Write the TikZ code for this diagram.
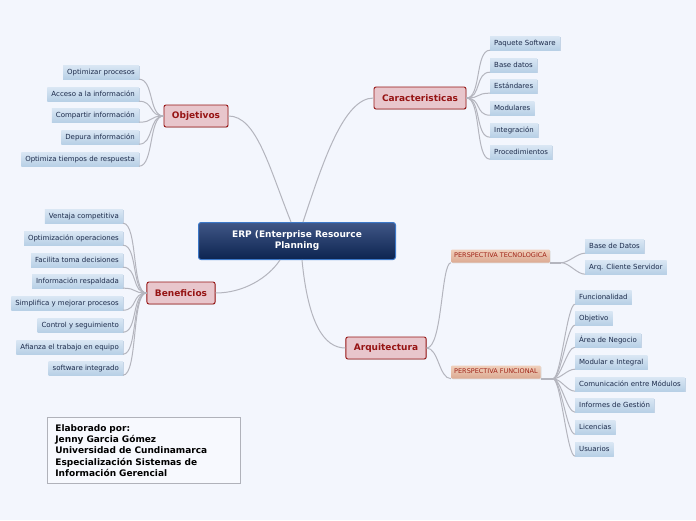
\documentclass[tikz,border=0pt]{standalone}
\usepackage{fontspec}
\setmainfont{DejaVu Sans}
\usetikzlibrary{shadows}
\definecolor{paper}{RGB}{243,246,253}
\definecolor{branchgray}{RGB}{180,181,190}
\definecolor{topicred}{RGB}{150,20,20}
\definecolor{topicpink}{RGB}{232,198,204}
\definecolor{leaftop}{RGB}{218,231,244}
\definecolor{leafbot}{RGB}{184,208,230}
\definecolor{leafshadow}{RGB}{196,212,230}
\definecolor{leaftext}{RGB}{28,42,74}
\definecolor{persptop}{RGB}{240,208,188}
\definecolor{perspbot}{RGB}{220,170,146}
\definecolor{persptext}{RGB}{160,36,24}
\definecolor{erptop}{RGB}{64,86,134}
\definecolor{erpbot}{RGB}{12,36,80}
\definecolor{erpline}{RGB}{60,120,200}
\definecolor{creditline}{RGB}{176,178,186}
\tikzset{
  erpbox/.style={rounded corners=2.5pt, draw=erpline, line width=1pt, top color=erptop, bottom color=erpbot,
    text=white, font=\bfseries\fontsize{9}{11}\selectfont, align=center, minimum width=197pt, minimum height=37pt},
  topic/.style={rounded corners=2pt, draw=topicred, line width=0.9pt, fill=topicpink, text=topicred,
    font=\bfseries\fontsize{9}{11}\selectfont, inner xsep=8pt, minimum height=22pt,
    drop shadow={shadow xshift=0.6pt, shadow yshift=-0.8pt, fill=black!25}},
  leaf/.style={top color=leaftop, bottom color=leafbot, text=leaftext, font=\fontsize{7}{8}\selectfont,
    inner xsep=4pt, inner ysep=0pt, text height=5.5pt, text depth=1.5pt, minimum height=14pt,
    drop shadow={shadow xshift=0.8pt, shadow yshift=-0.8pt, fill=leafshadow, opacity=1}},
  persp/.style={rounded corners=1pt, top color=persptop, bottom color=perspbot, text=persptext, font=\fontsize{6.5}{8}\selectfont,
    inner xsep=3pt, inner ysep=0pt, text height=5pt, text depth=1.5pt, minimum height=13pt,
    drop shadow={shadow xshift=0.8pt, shadow yshift=-0.8pt, fill=black!12, opacity=1}},
  branch/.style={draw=branchgray, line width=1pt},
  credit/.style={draw=creditline, line width=0.8pt, fill=paper!70!white, font=\bfseries\fontsize{9}{11.3}\selectfont,
    align=left, text width=177pt, inner xsep=8pt, minimum width=193pt, minimum height=66pt}
}
\begin{document}
\begin{tikzpicture}[x=1pt, y=-1pt]
%%%%% START %%%%%

\fill[paper] (0,0) rectangle (696,520);
\useasboundingbox (0,0) rectangle (696,520);

% main topics
\node[erpbox] (erp) at (297,241) {ERP (Enterprise Resource\\Planning};
\node[topic] (obj) at (196,116) {Objetivos};
\node[topic] (car) at (420,98) {Caracteristicas};
\node[topic] (ben) at (181,293) {Beneficios};
\node[topic] (arq) at (386,348) {Arquitectura};

\draw[branch] ([xshift=-6pt]erp.north) .. controls +(-22,-55) and +(28,0) .. (obj.east);
\draw[branch] ([xshift=6pt]erp.north) .. controls +(20,-60) and +(-30,0) .. (car.west);
\draw[branch] ([xshift=-17pt]erp.south) .. controls +(-12,18) and +(28,0) .. (ben.east);
\draw[branch] ([xshift=5pt]erp.south) .. controls +(6,62) and +(-22,0) .. (arq.west);

% Objetivos
\node[leaf, anchor=east] (o1) at (139,72) {Optimizar procesos};
\node[leaf, anchor=east] (o2) at (139,94) {Acceso a la información};
\node[leaf, anchor=east] (o3) at (139,115) {Compartir información};
\node[leaf, anchor=east] (o4) at (139,137) {Depura información};
\node[leaf, anchor=east] (o5) at (139,159) {Optimiza tiempos de respuesta};

\draw[branch] (obj.west) .. controls +(-15,0) and +(15,0) .. (o1.south east);
\draw[branch] (obj.west) .. controls +(-15,0) and +(15,0) .. (o2.south east);
\draw[branch] (obj.west) .. controls +(-15,0) and +(15,0) .. (o3.south east);
\draw[branch] (obj.west) .. controls +(-15,0) and +(15,0) .. (o4.south east);
\draw[branch] (obj.west) .. controls +(-15,0) and +(15,0) .. (o5.south east);

% Caracteristicas
\node[leaf, anchor=west] (c1) at (490,43) {Paquete Software};
\node[leaf, anchor=west] (c2) at (490,65) {Base datos};
\node[leaf, anchor=west] (c3) at (490,86) {Estándares};
\node[leaf, anchor=west] (c4) at (490,108) {Modulares};
\node[leaf, anchor=west] (c5) at (490,130) {Integración};
\node[leaf, anchor=west] (c6) at (490,152) {Procedimientos};

\draw[branch] (car.east) .. controls +(15,0) and +(-15,0) .. (c1.south west);
\draw[branch] (car.east) .. controls +(15,0) and +(-15,0) .. (c2.south west);
\draw[branch] (car.east) .. controls +(15,0) and +(-15,0) .. (c3.south west);
\draw[branch] (car.east) .. controls +(15,0) and +(-15,0) .. (c4.south west);
\draw[branch] (car.east) .. controls +(15,0) and +(-15,0) .. (c5.south west);
\draw[branch] (car.east) .. controls +(15,0) and +(-15,0) .. (c6.south west);

% Beneficios
\node[leaf, anchor=east] (b1) at (123,216) {Ventaja competitiva};
\node[leaf, anchor=east] (b2) at (123,238) {Optimización operaciones};
\node[leaf, anchor=east] (b3) at (123,260) {Facilita toma decisiones};
\node[leaf, anchor=east] (b4) at (123,281) {Información respaldada};
\node[leaf, anchor=east] (b5) at (123,303) {Simplifica y mejorar procesos};
\node[leaf, anchor=east] (b6) at (123,325) {Control y seguimiento};
\node[leaf, anchor=east] (b7) at (123,347) {Afianza el trabajo en equipo};
\node[leaf, anchor=east] (b8) at (123,368) {software integrado};

\draw[branch] (ben.west) .. controls +(-15,0) and +(15,0) .. (b1.south east);
\draw[branch] (ben.west) .. controls +(-15,0) and +(15,0) .. (b2.south east);
\draw[branch] (ben.west) .. controls +(-15,0) and +(15,0) .. (b3.south east);
\draw[branch] (ben.west) .. controls +(-15,0) and +(15,0) .. (b4.south east);
\draw[branch] (ben.west) .. controls +(-15,0) and +(15,0) .. (b5.south east);
\draw[branch] (ben.west) .. controls +(-15,0) and +(15,0) .. (b6.south east);
\draw[branch] (ben.west) .. controls +(-15,0) and +(15,0) .. (b7.south east);
\draw[branch] (ben.west) .. controls +(-15,0) and +(15,0) .. (b8.south east);

% Arquitectura
\node[persp, anchor=west] (tec) at (451,256) {PERSPECTIVA TECNOLOGICA};
\node[persp, anchor=west] (fun) at (451,372) {PERSPECTIVA FUNCIONAL};

\draw[branch] (arq.east) .. controls +(16,0) and +(-10,0) .. (tec.south west);
\draw[branch] (arq.east) .. controls +(12,0) and +(-12,0) .. (fun.south west);

\coordinate (techub) at ([xshift=11pt]tec.south east);
\coordinate (funhub) at ([xshift=12pt]fun.south east);
\draw[branch, line width=1.6pt] (tec.south east) -- (techub);
\draw[branch, line width=1.6pt] (fun.south east) -- (funhub);

\node[leaf, anchor=west] (t1) at (585,246) {Base de Datos};
\node[leaf, anchor=west] (t2) at (585,267) {Arq. Cliente Servidor};

\draw[branch] (techub) .. controls +(8,0) and +(-8,0) .. (t1.south west);
\draw[branch] (techub) .. controls +(8,0) and +(-8,0) .. (t2.south west);

\node[leaf, anchor=west] (f1) at (575,297) {Funcionalidad};
\node[leaf, anchor=west] (f2) at (575,318) {Objetivo};
\node[leaf, anchor=west] (f3) at (575,340) {Área de Negocio};
\node[leaf, anchor=west] (f4) at (575,362) {Modular e Integral};
\node[leaf, anchor=west] (f5) at (575,384) {Comunicación entre Módulos};
\node[leaf, anchor=west] (f6) at (575,405) {Informes de Gestión};
\node[leaf, anchor=west] (f7) at (575,427) {Licencias};
\node[leaf, anchor=west] (f8) at (575,449) {Usuarios};

\draw[branch] (funhub) .. controls +(8,0) and +(-8,0) .. (f1.south west);
\draw[branch] (funhub) .. controls +(8,0) and +(-8,0) .. (f2.south west);
\draw[branch] (funhub) .. controls +(8,0) and +(-8,0) .. (f3.south west);
\draw[branch] (funhub) .. controls +(8,0) and +(-8,0) .. (f4.south west);
\draw[branch] (funhub) .. controls +(8,0) and +(-8,0) .. (f5.south west);
\draw[branch] (funhub) .. controls +(8,0) and +(-8,0) .. (f6.south west);
\draw[branch] (funhub) .. controls +(8,0) and +(-8,0) .. (f7.south west);
\draw[branch] (funhub) .. controls +(8,0) and +(-8,0) .. (f8.south west);

% credits
\node[credit, anchor=north west] (credit) at (47,417) {Elaborado por:\\Jenny Garcia Gómez\\Universidad de Cundinamarca\\Especialización Sistemas de\\Información Gerencial};

%%%%% END %%%%%
\end{tikzpicture}
\end{document}
